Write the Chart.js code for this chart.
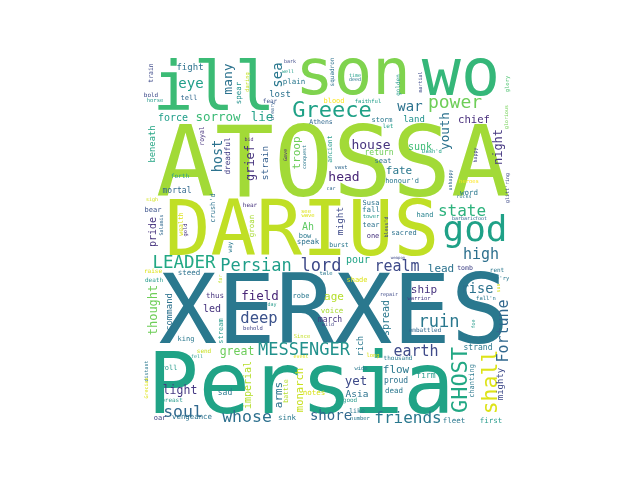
<!DOCTYPE html>
<html>
<head>
<meta charset="utf-8">
<script src="https://cdn.jsdelivr.net/npm/chart.js@4/dist/chart.umd.min.js"></script>
<style>
html,body{margin:0;padding:0;background:#fff;}
#wrap{width:640px;height:480px;}
</style>
</head>
<body>
<div id="wrap"><canvas id="c" width="640" height="480"></canvas></div>
<script>
// Word cloud data: word, weight (font size in layout units), layout position, orientation
const words = ["ATOSSA","DARIUS","XERXES","Persia","ill","son","wo","god","Greece","power","state","LEADER","Persian","lord","MESSENGER","GHOST","shall","Fortune","friends","ruin","earth","whose","soul","shore","deep","realm","high","youth","night","chief","war","land","sunk","fate","house","head","troop","sea","many","spear","sorrow","force","lie","eye","fight","beneath","host","dreadful","grief","strain","royal","train","bold","horse","tell","daring","bid","forth","bark","well","plain","lost","fear","dreary","Athens","blood","faithful","squadron","time","deed","storm","let","Gave","conquest","ancient","vast","return","seat","golden","martial","glory","glorious","happy","Dash'd","honour'd","heroes","unhappy","glitt'ring","word","rocks","hand","barbaric","foot","sacred","bless'd","lead","tomb","rent","ev'ry","sun","fall'n","warrior","repair","weapon","ship","rise","mortal","sigh","crush'd","bear","Salamis","pride","wealth","gold","groan","way","hear","raise","steed","death","far","thus","field","thought","command","see","wave","Ah","bow","speak","might","burst","Susa","fall","tower","tear","one","car","pour","tale","shade","robe","age","led","stream","king","behold","great","send","fell","distant","Grecian","roll","imperial","light","breast","sad","oar","vengeance","day","voice","march","wild","rich","Since","event","long","wide","yet","Asia","good","notes","monarch","battle","arms","sink","like","number","spread","foe","embattled","strand","thousand","flow","firm","proud","dead","chanting","mighty","fleet","first"];
const weights = [98,76,97,85,68,64,65,36,22,18,16,17.5,17,17,17,22,21.5,15,16,17,15,16.5,16.5,14,15.5,15,15,12.6,12,10.6,14,9,10,11,13,13,11,14,13,7.5,12.5,10,12.5,14,9,8.8,13.5,7.7,12,9.5,6.5,6.5,6,5.5,7,5.5,5,6,5,5,7.5,9,6,5,6.5,7,5.5,6,5,5,7,6,5,5,6.5,5.5,8,7,6,5,5.5,5,5,5.5,7,5.5,5,5,7.5,5,7,5,5,7,5,11,6.5,6,5.5,5,5.5,5.5,5,4,11,13.5,8,5,7,7,5,10,6.5,5.5,7.5,6,6,6,7.5,6,5,7.5,12.5,12,9,5.5,5.5,10,7,7.5,9.5,6.5,7,7.5,5.5,7,7,5,10,5.5,7,7,11,10,7,7,5.5,11.5,6,5,5,5,7,10,11.5,6,8,7,7.4,5,7.5,8,5,8.5,5.5,5,5.5,5.5,12.5,9.5,6,7.5,10.5,6.5,11,7.5,6.5,5.5,10,5,6,8,6,11,8,8,7.5,7,9,7.5,7.5];
const posX = [190,159,191,158,71,210,318,332,189,312,319,41,113,178,161,324,354,365,265,296,273,104,40,188,116,254,338,306,359,331,267,271,277,256,228,201,156.5,139,89,98,75,30,119,48,47,12,79,87,111,125,60.5,10,8,12,46,106,106,37,147,145,151,137,127,131,178,191,225,191,212,212,239,245,144,163,189,198,236,240,257,279,366,365,334,289,259,326,309,366,326,321,282,321,338,261,245,298,322,354,358,357,343,276,246,255,281,334,34,9,72,10,20,13,40,44,111,89,107,10,46,11,79,72,117,14,29,163,165,165,162,165,200,196,228,228,228,228,230,188,215,183,214,158,191,69,80,43,110,94,61,54,5,5,26,108,37,29,82,17,49,129,189,187,185,220,159,158,230,218,213,214,207,171,160,145,139,144,214,217,246,332,282,335,255,253,283,253,251,331,360,311,348];
const posY = [141,200,288,358,55,39,40,186,62,53,161,213,216,216,300,325,327,276,368,272,301,367,362,365,268,216,204,76,92,68,56,67,95,119,94,126,98,20,24,38,66,66,66,33,15,89,101,101,108,108,81,18,42,47,45,27,86,123,8,18,29,42,48,56,69,48,48,17,22,26,67,73,100,102,94,114,100,108,30,27,29,62,100,98,128,128,125,133,140,143,162,165,165,180,172,217,215,217,225,233,245,245,241,204,238,238,138,146,153,157,170,177,169,175,171,192,152,218,220,227,224,243,245,255,257,158,162,175,183,189,166,192,150,157,163,172,183,135,208,220,227,243,245,257,276,286,275,300,298,303,316,333,315,330,339,347,340,365,364,251,258,267,271,291,283,303,302,315,330,342,347,340,335,336,340,365,358,365,263,269,277,295,305,318,323,328,338,326,329,368,368];
const vertical = [0,0,0,0,0,0,0,0,0,0,0,0,0,0,0,1,1,1,0,0,0,0,0,0,0,0,0,1,1,0,0,0,0,0,0,0,1,1,1,1,0,0,0,0,0,1,1,1,1,1,1,1,0,0,0,1,0,0,0,0,0,0,0,1,0,0,0,1,0,0,0,0,1,1,1,0,0,0,1,1,1,1,1,0,0,0,1,1,0,0,0,0,0,0,1,0,0,0,0,1,0,0,0,0,0,0,0,0,1,0,1,1,1,1,1,1,0,0,0,0,1,0,0,1,1,0,0,0,0,0,1,0,0,0,0,0,0,0,0,0,0,0,0,0,1,0,0,0,0,0,1,1,0,1,0,0,0,0,0,0,0,0,0,1,0,0,0,0,0,0,0,0,1,1,1,0,0,0,1,1,0,0,0,0,0,0,0,1,1,0,0];
const wordColours = ["#a2da37","#c0df25","#2a788e","#20a386","#3bbb75","#7fd34e","#35b779","#1fa187","#1fa187","#6ece58","#2db27d","#22a884","#1f9e89","#3e4a89","#21918c","#22a884","#dde318","#31688e","#2a788e","#2a788e","#3e4a89","#2d708e","#31688e","#31688e","#3b528b","#3e4a89","#2d708e","#2c728e","#453781","#472d7b","#2c728e","#21918c","#3dbc74","#2a788e","#46337e","#482677","#6ccd5a","#2a788e","#2c728e","#21918c","#3aba76","#1f9e89","#26a28a","#1f9e89","#2c728e","#25a584","#2c728e","#433e85","#46337e","#355f8d","#46337e","#3e4a89","#3e4a89","#2a9d8e","#31688e","#c2df23","#482878","#2a9d8e","#3e4a89","#1f9e89","#2a788e","#2c728e","#3b528b","#35608d","#31688e","#fde725","#1f9e89","#2c728e","#1f9e89","#2a788e","#2a788e","#1f9e89","#482878","#2a788e","#2a9d8e","#31688e","#6ece58","#2c728e","#2a9d8e","#3e4a89","#4ac16d","#73d055","#414487","#1fa187","#2a788e","#fde725","#31688e","#3e4a89","#2a788e","#2a788e","#26828e","#31688e","#31688e","#2c728e","#3e4a89","#2c728e","#414487","#2a788e","#2a788e","#d8e219","#2a788e","#443983","#3e4a89","#3e4a89","#46337e","#2c728e","#31688e","#d2e21b","#2c728e","#3b528b","#31688e","#46337e","#dde318","#46337e","#a8db34","#2a788e","#46337e","#dde318","#2c728e","#2a9d8e","#bddf26","#46337e","#482677","#6ece58","#2c728e","#dde318","#dde318","#5ec962","#2a788e","#2c728e","#3e4a89","#2a788e","#2c728e","#2a788e","#2a9d8e","#2c728e","#46337e","#31688e","#20a386","#2a788e","#dde318","#2a788e","#b5de2b","#46337e","#2a9d8e","#2a788e","#414487","#6ccd5a","#c8e020","#2a9d8e","#2a788e","#dde318","#2a9d8e","#b5de2b","#443983","#2a9d8e","#2a788e","#414487","#2c728e","#2a9d8e","#a8db34","#46337e","#414487","#2a788e","#c2df23","#dde318","#dde318","#2a788e","#3e4a89","#2c728e","#2a9d8e","#d8e219","#c8e020","#b5de2b","#2c728e","#2a788e","#2a788e","#2a788e","#2a788e","#2a9d8e","#31688e","#2a788e","#2a788e","#2a788e","#2a9d8e","#2c728e","#2a788e","#2a788e","#3e4a89","#2a788e","#2a9d8e"];

const points = words.map((w, i) => ({x: posX[i], y: posY[i], w: w, s: weights[i], v: vertical[i]}));

const wordPlugin = {
  id: 'wordcloud',
  afterDatasetsDraw(chart) {
    const ctx = chart.ctx;
    const xs = chart.scales.x, ys = chart.scales.y;
    const unit = Math.abs(xs.getPixelForValue(1) - xs.getPixelForValue(0));
    chart.data.datasets[0].data.forEach((d, i) => {
      const px = xs.getPixelForValue(d.x);
      const py = ys.getPixelForValue(d.y);
      ctx.save();
      ctx.font = (d.s * unit) + 'px "DejaVu Sans Mono"';
      ctx.fillStyle = wordColours[i];
      ctx.textAlign = 'center';
      ctx.textBaseline = 'alphabetic';
      ctx.translate(px, py);
      if (d.v) ctx.rotate(-Math.PI / 2);
      ctx.fillText(d.w, 0, 0);
      ctx.restore();
    });
  }
};

new Chart(document.getElementById('c'), {
  type: 'scatter',
  data: { datasets: [{ data: points, pointRadius: 0, pointHoverRadius: 0 }] },
  options: {
    responsive: false,
    animation: false,
    devicePixelRatio: 1,
    layout: { padding: { left: 143, right: 127, top: 55, bottom: 55 } },
    plugins: { legend: { display: false }, tooltip: { enabled: false } },
    scales: {
      x: { type: 'linear', min: 0, max: 370, display: false },
      y: { type: 'linear', min: 0, max: 370, reverse: true, display: false }
    }
  },
  plugins: [wordPlugin]
});
</script>
</body>
</html>
